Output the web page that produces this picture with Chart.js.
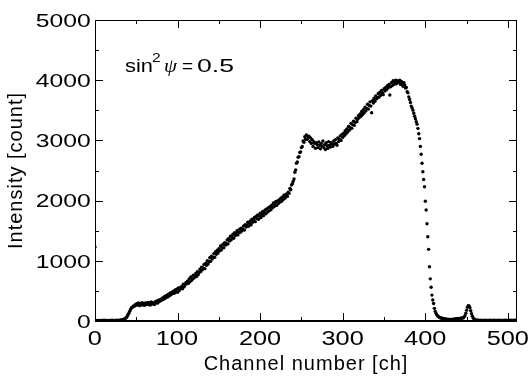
<!DOCTYPE html>
<html>
<head>
<meta charset="utf-8">
<script src="https://cdn.jsdelivr.net/npm/chart.js@4.4.0/dist/chart.umd.min.js"></script>
<style>
  html, body { margin: 0; padding: 0; background: #fff; }
  #wrap { width: 532px; height: 381px; }
</style>
</head>
<body>
<div id="wrap"><canvas id="spectrum"></canvas></div>
<script>
// counts per channel (ch 0..511)
const counts = [
  1230, 8, 6, 10, 7, 9, 5, 11, 8, 6, 9, 12, 7, 10, 8, 6,
  11, 9, 7, 10, 8, 12, 9, 7, 11, 10, 8, 13, 9, 11, 14, 12,
  16, 18, 22, 28, 35, 45, 60, 80, 105, 130, 160, 190, 215, 225, 240, 250,
  250, 275, 262, 290, 268, 300, 255, 285, 270, 305, 265, 292, 260, 298, 275, 285,
  310, 272, 298, 265, 315, 280, 305, 290, 275, 320, 298, 335, 300, 345, 325, 360,
  340, 375, 355, 395, 370, 410, 385, 430, 400, 445, 420, 460, 435, 480, 455, 495,
  462, 515, 480, 530, 478, 548, 505, 552, 540, 575, 535, 612, 570, 600, 635, 620,
  660, 625, 700, 650, 730, 675, 700, 760, 715, 745, 790, 740, 820, 770, 800, 860,
  820, 895, 850, 880, 940, 870, 960, 925, 1000, 945, 985, 1050, 990, 1075, 1030, 1060,
  1120, 1060, 1150, 1110, 1175, 1130, 1200, 1165, 1245, 1180, 1220, 1275, 1215, 1300, 1260, 1290,
  1345, 1280, 1370, 1330, 1410, 1350, 1395, 1440, 1375, 1465, 1420, 1450, 1500, 1430, 1470, 1525,
  1475, 1540, 1500, 1530, 1580, 1510, 1600, 1560, 1590, 1640, 1575, 1625, 1660, 1600, 1690, 1640,
  1680, 1720, 1650, 1735, 1700, 1760, 1690, 1745, 1790, 1720, 1770, 1820, 1750, 1800, 1845, 1780,
  1860, 1810, 1880, 1830, 1900, 1850, 1925, 1880, 1960, 1900, 1940, 1985, 1920, 1995, 1950, 2010,
  1975, 2040, 1990, 2060, 2020, 2095, 2040, 2080, 2110, 2070, 2140, 2120, 2200, 2180, 2260, 2280,
  2320, 2360, 2470, 2510, 2620, 2640, 2720, 2730, 2800, 2810, 2880, 2900, 2990, 2970, 3060, 3020,
  3090, 3020, 3060, 3070, 2980, 3040, 2950, 3010, 2900, 2980, 2950, 2870, 2960, 2930, 2880, 2975,
  2920, 2860, 2950, 2900, 2990, 2880, 2930, 2850, 2960, 2910, 2870, 2980, 2920, 2890, 2960, 2940,
  2900, 2990, 2940, 3010, 2950, 2920, 3040, 2980, 3020, 3075, 3000, 3100, 3050, 3120, 3080, 3160,
  3110, 3190, 3140, 3230, 3170, 3210, 3280, 3200, 3260, 3320, 3250, 3300, 3370, 3310, 3350, 3410,
  3380, 3440, 3400, 3480, 3430, 3510, 3460, 3550, 3490, 3530, 3600, 3520, 3580, 3640, 3570, 3460,
  3660, 3620, 3700, 3650, 3740, 3690, 3710, 3780, 3720, 3800, 3750, 3830, 3790, 3760, 3860, 3820,
  3880, 3840, 3910, 3870, 3930, 3755, 3890, 3960, 3910, 3990, 3930, 3970, 4000, 3940, 3990, 3960,
  3970, 4000, 3930, 3980, 3950, 3900, 3960, 3920, 3870, 3880, 3810, 3790, 3720, 3680, 3630, 3570,
  3540, 3500, 3450, 3400, 3360, 3310, 3270, 3200, 3110, 3030, 2900, 2770, 2620, 2480, 2350, 2230,
  1990, 1845, 1615, 1400, 1190, 900, 700, 560, 430, 350, 290, 210, 160, 125, 100, 85,
  72, 62, 55, 50, 46, 42, 38, 35, 32, 30, 28, 26, 25, 24, 24, 25,
  26, 27, 28, 30, 32, 34, 36, 38, 40, 42, 44, 46, 48, 50, 55, 65,
  90, 130, 180, 230, 255, 250, 220, 170, 120, 80, 50, 32, 22, 16, 14, 12,
  12, 11, 10, 12, 10, 9, 11, 10, 12, 9, 10, 11, 8, 10, 12, 9,
  10, 11, 9, 12, 10, 8, 11, 10, 9, 12, 10, 11, 9, 10, 8, 11,
  10, 12, 9, 10, 11, 8, 10, 12, 9, 11, 10, 9, 12, 10, 11, 9
];
const channels = counts.map((_, i) => i);

const xTicks = [0, 100, 200, 300, 400, 500];
const xMinor = [50, 150, 250, 350, 450];
const yTicks = [0, 1000, 2000, 3000, 4000, 5000];
const yMinor = [500, 1500, 2500, 3500, 4500];

const FONT = "'Liberation Sans', Arial, sans-serif";
const STRETCH = 1.3; // the figure's lettering is wider than Arial

// text stretched horizontally; anchor is the ink box
function wideText(ctx, text, font, sx, x, base, align) {
  ctx.save();
  ctx.font = font;
  ctx.textBaseline = 'alphabetic';
  const m = ctx.measureText(text);
  const ink = (m.actualBoundingBoxLeft + m.actualBoundingBoxRight) * sx;
  let left = x;
  if (align === 'center') left = x - ink / 2;
  if (align === 'right') left = x - ink;
  ctx.translate(left, base);
  ctx.scale(sx, 1);
  ctx.fillText(text, m.actualBoundingBoxLeft, 0);
  ctx.restore();
}

const frameTicks = {
  id: 'frameTicks',
  beforeDraw(chart) {
    chart.ctx.letterSpacing = '1px';
  },
  afterDraw(chart) {
    const {ctx, chartArea: a, scales: {x, y}} = chart;
    ctx.letterSpacing = '0px';
    ctx.save();
    ctx.strokeStyle = '#000';
    ctx.lineWidth = 1;
    ctx.beginPath();
    ctx.moveTo(a.left + 0.5, a.bottom);
    ctx.lineTo(a.left + 0.5, a.top + 0.5);
    ctx.lineTo(a.right - 0.5, a.top + 0.5);
    ctx.lineTo(a.right - 0.5, a.bottom);
    ctx.stroke();
    ctx.lineWidth = 2;
    ctx.beginPath();
    ctx.moveTo(a.left, a.bottom);
    ctx.lineTo(a.right, a.bottom);
    ctx.stroke();

    // inward ticks on all four sides
    ctx.lineWidth = 1;
    ctx.beginPath();
    xTicks.map(v => [v, 8]).concat(xMinor.map(v => [v, 4])).forEach(([v, len]) => {
      const px = Math.round(x.getPixelForValue(v)) + 0.5;
      ctx.moveTo(px, a.bottom); ctx.lineTo(px, a.bottom - len);
      ctx.moveTo(px, a.top); ctx.lineTo(px, a.top + len);
    });
    yTicks.map(v => [v, 8]).concat(yMinor.map(v => [v, 4])).forEach(([v, len]) => {
      const py = Math.round(y.getPixelForValue(v)) + 0.5;
      ctx.moveTo(a.left, py); ctx.lineTo(a.left + len, py);
      ctx.moveTo(a.right, py); ctx.lineTo(a.right - len, py);
    });
    ctx.stroke();

    // tick labels
    ctx.fillStyle = '#000';
    x.ticks.forEach(t => {
      wideText(ctx, String(t.value), '19.5px ' + FONT, STRETCH, x.getPixelForValue(t.value), a.bottom + 24, 'center');
    });
    y.ticks.forEach(t => {
      wideText(ctx, String(t.value), '19px ' + FONT, STRETCH, a.left - 5, y.getPixelForValue(t.value) + 6.8, 'right');
    });

    // sin^2 psi = 0.5
    wideText(ctx, 'sin', '19px ' + FONT, 1.15, 125, 72, 'left');
    wideText(ctx, '2', '13px ' + FONT, 1.2, 152, 62, 'left');
    wideText(ctx, '\u03C8', "italic 19px 'Liberation Serif', serif", 1.1, 165, 72, 'left');
    wideText(ctx, '=', '19px ' + FONT, 1.0, 182, 72, 'left');
    wideText(ctx, '0.5', '19px ' + FONT, 1.4, 197, 72, 'left');
    ctx.restore();
  }
};

new Chart(document.getElementById('spectrum'), {
  type: 'scatter',
  data: {
    datasets: [{
      data: channels.map((c, i) => ({x: c, y: counts[i]})),
      pointRadius: 1.7,
      pointHoverRadius: 1.7,
      pointBackgroundColor: '#000',
      pointBorderWidth: 0,
      showLine: false
    }]
  },
  options: {
    responsive: true,
    maintainAspectRatio: false,
    animation: false,
    devicePixelRatio: 1,
    events: [],
    layout: { padding: { left: 0, right: 15, top: 20, bottom: 0 } },
    plugins: { legend: { display: false }, tooltip: { enabled: false } },
    scales: {
      x: {
        type: 'linear',
        min: 0,
        max: 511,
        afterBuildTicks: s => { s.ticks = xTicks.map(v => ({value: v})); },
        afterFit: s => { s.height = 60; },
        grid: { display: false, drawTicks: false },
        border: { display: false },
        ticks: { display: false },
        title: { display: true, text: 'Channel number [ch]', color: '#000', padding: { top: 0, bottom: 5 }, font: { family: FONT, size: 20 } }
      },
      y: {
        min: 0,
        max: 5000,
        afterBuildTicks: s => { s.ticks = yTicks.map(v => ({value: v})); },
        afterFit: s => { s.width = 95; },
        grid: { display: false, drawTicks: false },
        border: { display: false },
        ticks: { display: false },
        title: { display: true, text: 'Intensity [count]', color: '#000', padding: { top: 4, bottom: 0 }, font: { family: FONT, size: 20 } }
      }
    }
  },
  plugins: [frameTicks]
});
</script>
</body>
</html>
